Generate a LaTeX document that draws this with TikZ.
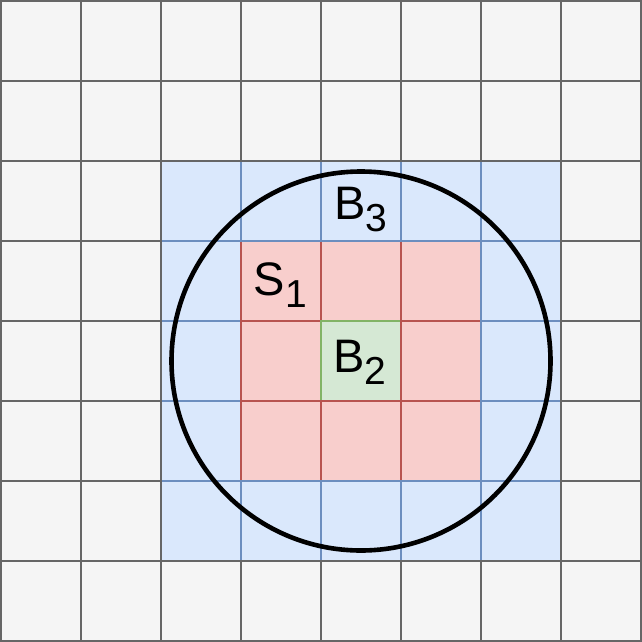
\documentclass[tikz,border=0pt]{standalone}
\usepackage{fontspec}
\setmainfont{Liberation Sans}
\definecolor{grayfill}{HTML}{F5F5F5}
\definecolor{grayline}{HTML}{666666}
\definecolor{bluefill}{HTML}{DAE8FC}
\definecolor{blueline}{HTML}{6C8EBF}
\definecolor{redfill}{HTML}{F8CECC}
\definecolor{redline}{HTML}{B85450}
\definecolor{greenfill}{HTML}{D5E8D4}
\definecolor{greenline}{HTML}{82B366}
\newcommand\celllabel[2]{#1\raisebox{-12.5pt}{\fontsize{39}{39}\selectfont #2}}
\begin{document}
\begin{tikzpicture}[x=1pt,y=-1pt,
  gridline/.style={line width=1.6pt},
  lbl/.style={inner sep=0pt, font=\fontsize{47}{47}\selectfont, anchor=base}]
\useasboundingbox (0,0) rectangle (642,642);
% fills
\fill[grayfill] (1,1) rectangle (641,641);
\fill[bluefill] (161,161) rectangle (561,561);
\fill[redfill] (241,241) rectangle (481,481);
\fill[greenfill] (321,321) rectangle (401,401);
% gray grid
\foreach \k in {1,81,...,641} {
  \draw[gridline, grayline] (\k,0.2) -- (\k,641.8);
  \draw[gridline, grayline] (0.2,\k) -- (641.8,\k);
}
% blue internal lines
\foreach \k in {241,321,401,481} {
  \draw[gridline, blueline] (\k,161.8) -- (\k,560.2);
  \draw[gridline, blueline] (161.8,\k) -- (560.2,\k);
}
% red lines
\foreach \k in {241,321,401} {
  \draw[gridline, redline] (\k,241.8) -- (\k,480.2);
}
\foreach \k in {321,401} {
  \draw[gridline, redline] (241.8,\k) -- (480.2,\k);
}
% green lines
\draw[gridline, greenline] (321,400.2) -- (321,321) -- (400.2,321);
% circle
\draw[line width=4.6pt, black] (361,361) circle[radius=189.5];
% labels
\node[lbl] (b3) at (361,219) {\celllabel{B}{3}};
\node[lbl] (s1) at (280.5,295) {\celllabel{S}{1}};
\node[lbl] (b2) at (360,372) {\celllabel{B}{2}};
\end{tikzpicture}
\end{document}
